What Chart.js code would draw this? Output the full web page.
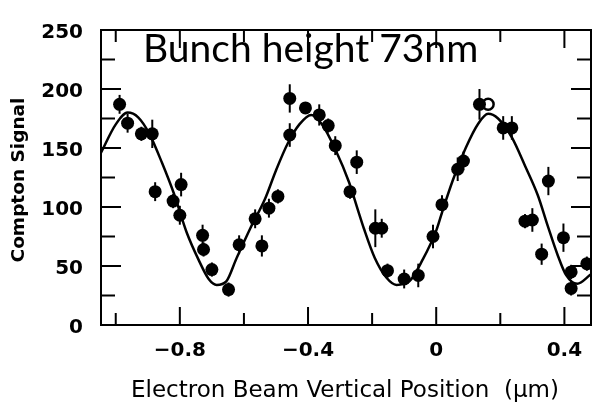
<!DOCTYPE html>
<html>
<head>
<meta charset="utf-8">
<script src="https://cdn.jsdelivr.net/npm/chart.js@4.4.1/dist/chart.umd.min.js"></script>
<style>
  html, body { margin: 0; padding: 0; background: #fff; }
</style>
</head>
<body>
<canvas id="chart" width="599" height="406"></canvas>
<script>
// measured data points (x in um, Compton signal) and their error bars
const pointX = [-0.988, -0.963, -0.92, -0.886, -0.877, -0.821, -0.8, -0.796, -0.729, -0.726,
  -0.7, -0.648, -0.615, -0.565, -0.544, -0.522, -0.494, -0.457, -0.457, -0.408,
  -0.365, -0.337, -0.315, -0.269, -0.248, -0.19, -0.17, -0.152, -0.1, -0.056,
  -0.01, 0.018, 0.067, 0.085, 0.135, 0.209, 0.236, 0.277, 0.3, 0.329,
  0.35, 0.397, 0.421, 0.421, 0.47];
const pointY = [187, 171, 162, 162, 113, 105, 93, 119, 76, 64,
  47, 30, 68, 90, 67, 99, 109, 192, 161, 184,
  178, 169, 152, 113, 138, 82, 82, 46, 39, 42,
  75, 102, 132, 139, 187, 167, 167, 88, 89, 60,
  122, 74, 45, 31, 52];
const pointErr = [8, 8, 6, 12, 8, 6, 8, 10, 9, 6,
  6, 6, 8, 8, 9, 8, 6, 12, 10, 5,
  9, 6, 8, 6, 10, 16, 8, 6, 8, 10,
  10, 8, 10, 8, 13, 10, 10, 6, 10, 9,
  12, 12, 6, 6, 6];

// open (hollow) point
const openX = [0.162];
const openY = [187];

// fitted curve
const fitX = [-1.046, -1.0, -0.963, -0.93, -0.895, -0.855, -0.818, -0.778, -0.741, -0.71,
  -0.685, -0.655, -0.624, -0.58, -0.534, -0.5, -0.463, -0.427, -0.39, -0.356,
  -0.315, -0.272, -0.245, -0.226, -0.192, -0.155, -0.124, -0.084, -0.041, 0.0,
  0.02, 0.051, 0.092, 0.132, 0.162, 0.193, 0.236, 0.277, 0.317, 0.348,
  0.378, 0.406, 0.44, 0.483];
const fitY = [146, 170, 180, 176, 162, 137, 111, 78, 55, 39,
  34, 37, 56, 82, 107, 131, 154, 170, 178, 170,
  149, 121, 98, 82, 57, 40, 34, 37, 56, 80,
  97, 122, 150, 171, 179, 175, 159, 135, 110, 84,
  60, 42, 35, 43];

const xTicks = [-1.0, -0.8, -0.6, -0.4, -0.2, 0, 0.2, 0.4];
const xLabelled = [-0.8, -0.4, 0, 0.4];
const yTicks = [0, 25, 50, 75, 100, 125, 150, 175, 200, 225, 250];
const yLabelled = [0, 50, 100, 150, 200, 250];

const xTitle = 'Electron Beam Vertical Position  (\u00b5m)';
const yTitle = 'Compton Signal';
const note = 'Bunch height 73nm';

const isMajor = (v, list) => list.some(m => Math.abs(m - v) < 1e-6);

// error bars, drawn under the points
const errorBars = {
  id: 'errorBars',
  beforeDatasetsDraw(chart) {
    const { ctx, scales: { x, y } } = chart;
    ctx.save();
    ctx.strokeStyle = '#000';
    ctx.lineWidth = 2;
    pointX.forEach((v, i) => {
      const px = x.getPixelForValue(v);
      ctx.beginPath();
      ctx.moveTo(px, y.getPixelForValue(pointY[i] - pointErr[i]));
      ctx.lineTo(px, y.getPixelForValue(pointY[i] + pointErr[i]));
      ctx.stroke();
    });
    ctx.restore();
  }
};

// frame with inward ticks on all four sides, titles and note
const frame = {
  id: 'frame',
  afterDraw(chart) {
    const { ctx, chartArea: a, scales: { x, y } } = chart;
    ctx.save();
    ctx.strokeStyle = '#000';
    ctx.lineWidth = 2;
    ctx.strokeRect(a.left, a.top, a.right - a.left, a.bottom - a.top);

    ctx.beginPath();
    xTicks.forEach(v => {
      const px = x.getPixelForValue(v);
      const len = isMajor(v, xLabelled) ? 18 : 12;
      ctx.moveTo(px, a.bottom); ctx.lineTo(px, a.bottom - len);
      ctx.moveTo(px, a.top); ctx.lineTo(px, a.top + len);
    });
    yTicks.forEach(v => {
      const py = y.getPixelForValue(v);
      const len = isMajor(v, yLabelled) ? 20 : 14;
      ctx.moveTo(a.left, py); ctx.lineTo(a.left + len, py);
      ctx.moveTo(a.right, py); ctx.lineTo(a.right - len, py);
    });
    ctx.stroke();

    ctx.fillStyle = '#000';
    ctx.font = '23px "DejaVu Sans"';
    ctx.textAlign = 'center';
    ctx.textBaseline = 'alphabetic';
    ctx.fillText(xTitle, 345, 397);

    ctx.save();
    ctx.translate(24, 180);
    ctx.rotate(-Math.PI / 2);
    ctx.font = 'bold 18.5px "DejaVu Sans"';
    ctx.fillText(yTitle, 0, 0);
    ctx.restore();

    ctx.font = '39px Lato';
    ctx.textAlign = 'left';
    ctx.fillText(note, 143, 62);
    ctx.restore();
  }
};

new Chart(document.getElementById('chart'), {
  type: 'scatter',
  data: {
    datasets: [
      {
        label: 'fit',
        data: fitX.map((v, i) => ({ x: v, y: fitY[i] })),
        showLine: true,
        borderColor: '#000',
        borderWidth: 2.5,
        pointRadius: 0,
        cubicInterpolationMode: 'monotone',
        order: 3
      },
      {
        label: 'data',
        data: pointX.map((v, i) => ({ x: v, y: pointY[i] })),
        pointRadius: 6.5,
        pointBackgroundColor: '#000',
        pointBorderColor: '#000',
        pointBorderWidth: 0,
        order: 1
      },
      {
        label: 'open',
        data: openX.map((v, i) => ({ x: v, y: openY[i] })),
        pointRadius: 5.5,
        pointBackgroundColor: '#fff',
        pointBorderColor: '#000',
        pointBorderWidth: 2.5,
        order: 2
      }
    ]
  },
  options: {
    responsive: false,
    animation: false,
    devicePixelRatio: 1,
    layout: { padding: { top: 14, right: 2, left: 0, bottom: 0 } },
    plugins: { legend: { display: false }, tooltip: { enabled: false } },
    scales: {
      x: {
        type: 'linear',
        min: -1.046,
        max: 0.483,
        afterBuildTicks: s => { s.ticks = xTicks.map(v => ({ value: v })); },
        afterFit: s => { s.height = 81; },
        grid: { display: false, drawTicks: false },
        border: { display: false },
        ticks: {
          padding: 14,
          maxRotation: 0,
          autoSkip: false,
          color: '#000',
          font: { family: 'DejaVu Sans', size: 20, weight: 'bold' },
          callback: v => isMajor(v, xLabelled) ? (v < 0 ? '\u2212' + Math.abs(v).toFixed(1) : (v === 0 ? '0' : v.toFixed(1))) : ''
        }
      },
      y: {
        min: 0,
        max: 250,
        afterBuildTicks: s => { s.ticks = yTicks.map(v => ({ value: v })); },
        afterFit: s => { s.width = 101; },
        grid: { display: false, drawTicks: false },
        border: { display: false },
        ticks: {
          padding: 18,
          labelOffset: 3,
          autoSkip: false,
          color: '#000',
          font: { family: 'DejaVu Sans', size: 20, weight: 'bold' },
          callback: v => isMajor(v, yLabelled) ? String(v) : ''
        }
      }
    }
  },
  plugins: [errorBars, frame]
});
</script>
</body>
</html>
